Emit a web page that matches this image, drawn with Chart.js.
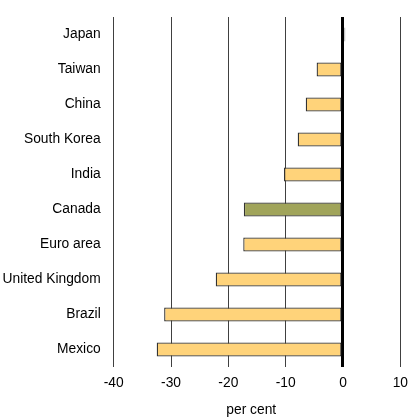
<!DOCTYPE html>
<html>
<head>
<meta charset="utf-8">
<script src="https://cdn.jsdelivr.net/npm/chart.js@4/dist/chart.umd.min.js"></script>
<style>
  html, body { margin: 0; padding: 0; background: #fff; }
  #wrap { width: 419px; height: 418px; }
</style>
</head>
<body>
<div id="wrap"><canvas id="myChart"></canvas></div>
<script>
// countries, top to bottom
var countries = ["Japan", "Taiwan", "China", "South Korea", "India", "Canada",
                 "Euro area", "United Kingdom", "Brazil", "Mexico"];
var changes = [0.4, -4.6, -6.5, -7.9, -10.3, -17.3, -17.4, -22.2, -31.2, -32.5];
var xTicks = [-40, -30, -20, -10, 0, 10];

var barColors = countries.map(function (c) {
  return c === "Canada" ? "#A0A45A" : "#FFD37A";
});

Chart.defaults.font.family = "'Liberation Sans', Arial, sans-serif";
Chart.defaults.font.size = 13.8;
Chart.defaults.color = "#000";

new Chart("myChart", {
  type: "bar",
  data: {
    labels: countries,
    datasets: [{
      data: changes,
      backgroundColor: barColors,
      borderColor: "#333",
      borderWidth: 1.3,
      borderSkipped: false,
      barPercentage: 0.8,
      categoryPercentage: 0.5
    }]
  },
  options: {
    indexAxis: "y",
    responsive: true,
    maintainAspectRatio: false,
    animation: false,
    layout: { padding: { top: 17, right: 18.7, left: 0, bottom: 0 } },
    plugins: {
      legend: { display: false },
      tooltip: { enabled: false }
    },
    scales: {
      x: {
        min: -40,
        max: 10,
        afterBuildTicks: function (axis) {
          axis.ticks = xTicks.map(function (v) { return { value: v }; });
        },
        afterFit: function (axis) { axis.height = 51; },
        border: { display: false },
        grid: {
          drawTicks: false,
          color: function (ctx) { return ctx.tick && ctx.tick.value === 0 ? "#000" : "#404040"; },
          lineWidth: function (ctx) { return ctx.tick && ctx.tick.value === 0 ? 3 : 1; }
        },
        ticks: { padding: 8 },
        title: {
          display: true,
          text: "per cent   ",
          padding: { top: 4, bottom: 0 }
        }
      },
      y: {
        afterFit: function (axis) {
          axis.width = 113.7;
          axis.paddingTop = 0;
          axis.paddingBottom = 0;
        },
        border: { display: false },
        grid: { display: false, drawTicks: false },
        ticks: { padding: 13 }
      }
    }
  }
});
</script>
</body>
</html>
